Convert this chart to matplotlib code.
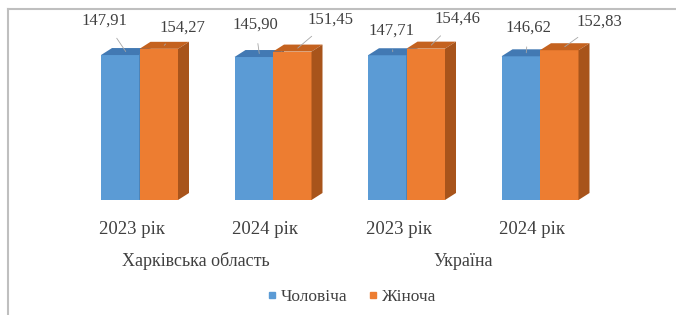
import matplotlib.pyplot as plt
from matplotlib.patches import Polygon
from matplotlib.lines import Line2D

plt.rcParams["font.family"] = ["Liberation Serif", "DejaVu Serif"]

# data
years = ["2023 рік", "2024 рік", "2023 рік", "2024 рік"]
regions = ["Харківська область", "Україна"]
male = [147.91, 145.90, 147.71, 146.62]
female = [154.27, 151.45, 154.46, 152.83]
series_names = ["Чоловіча", "Жіноча"]

# label offsets in pixels (dx, dy) from the top of each bar, as placed in the source
male_lbl = [(-21, 31), (-4, 29), (-1, 21), (2, 25)]
female_lbl = [(18, 18), (33, 28), (26, 26), (35, 25)]

BLUE = ("#5B9BD5", "#4279b3", "#3e6f9f")      # front, top, side
ORANGE = ("#ED7D31", "#c4621f", "#a8541b")
TXT = "#404040"

W, H, DPI = 676, 315, 100
PX_X = 133.5            # pixels per category
PX_Y = 0.98             # pixels per value unit
X0, Y0 = 139.5, 200     # pixel position of category 0 / baseline (from top)

fig = plt.figure(figsize=(W / DPI, H / DPI), dpi=DPI)
ax = fig.add_axes([0, 0, 1, 1])
ax.set_xlim(-X0 / PX_X, (W - X0) / PX_X)
ax.set_ylim(-(H - Y0) / PX_Y, Y0 / PX_Y)
ax.axis("off")

bw = 38.5 / PX_X
dx = 11 / PX_X
dy = 7 / PX_Y


def bar3d(xc, h, cols):
    x0, x1 = xc - bw / 2, xc + bw / 2
    ax.bar(xc, h, width=bw, color=cols[0], linewidth=0, zorder=2)
    ax.add_patch(Polygon([(x0, h), (x1, h), (x1 + dx, h + dy), (x0 + dx, h + dy)],
                         closed=True, facecolor=cols[1], edgecolor="none", zorder=2))
    ax.add_patch(Polygon([(x1, 0), (x1 + dx, dy), (x1 + dx, h + dy), (x1, h)],
                         closed=True, facecolor=cols[2], edgecolor="none", zorder=2))


def value_label(xc, h, off):
    ax.annotate(f"{h:.2f}".replace(".", ","), xy=(xc + dx / 2, h + dy / 2),
                xytext=off, textcoords="offset pixels", ha="center", va="center",
                fontsize=12, color=TXT, zorder=5,
                arrowprops=dict(arrowstyle="-", color="#a6a6a6", lw=0.6,
                                shrinkA=6, shrinkB=0))


for i in range(len(years)):
    bar3d(i - bw / 2, male[i], BLUE)
    bar3d(i + bw / 2, female[i], ORANGE)

for i in range(len(years)):
    value_label(i - bw / 2, male[i], male_lbl[i])
    value_label(i + bw / 2, female[i], female_lbl[i])

# category labels
for i, lab in enumerate(years):
    ax.text(i - 8 / PX_X, -30 / PX_Y, lab, ha="center", va="center",
            fontsize=13.5, color=TXT)
for j, lab in enumerate(regions):
    ax.text(2 * j + 0.5 - 10 / PX_X, -61 / PX_Y, lab, ha="center", va="center",
            fontsize=13, color=TXT)

# chart frame: only top and left edges are inside the picture
fx, fy = 8 / W, 1 - 9 / H
fig.add_artist(Line2D([fx, 1.05], [fy, fy], transform=fig.transFigure,
                      color="#bfbfbf", lw=1.5))
fig.add_artist(Line2D([fx, fx], [fy, -0.05], transform=fig.transFigure,
                      color="#bfbfbf", lw=1.5))

handles = [Line2D([], [], marker="s", linestyle="none", markersize=5,
                  color=BLUE[0]),
           Line2D([], [], marker="s", linestyle="none", markersize=5,
                  color=ORANGE[0])]
fig.legend(handles, series_names, loc="center", bbox_to_anchor=(352 / W, 1 - 297 / H),
           ncol=2, frameon=False, fontsize=12.5, handlelength=0.5,
           handletextpad=0.3, columnspacing=1.2, labelcolor=TXT)

fig.savefig("out.png", dpi=DPI)
